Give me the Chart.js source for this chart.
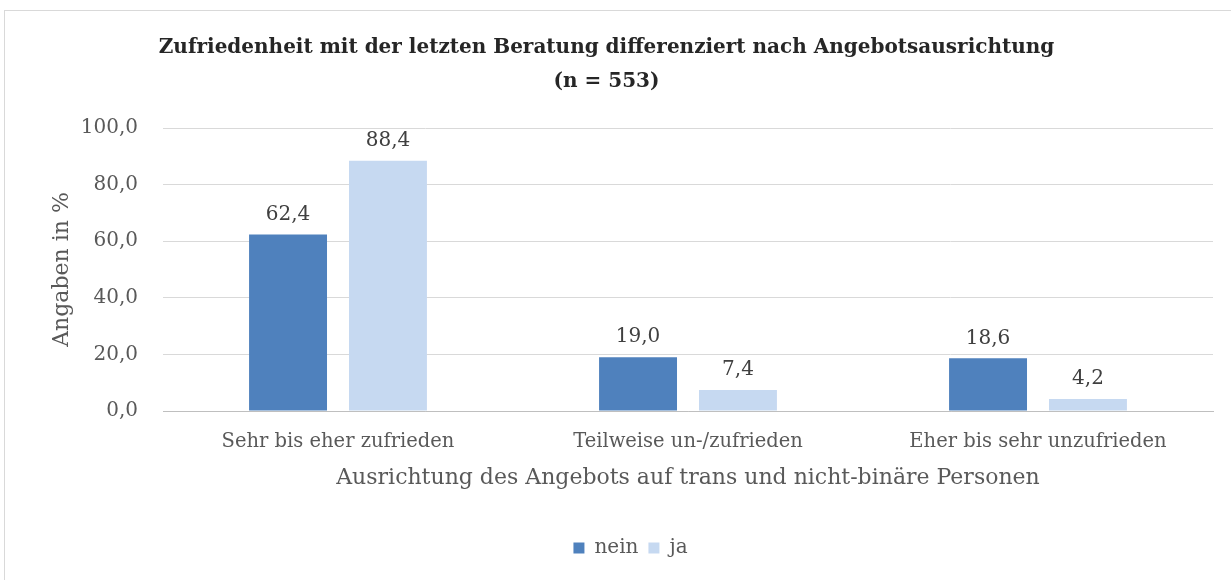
<!DOCTYPE html>
<html>
<head>
<meta charset="utf-8">
<script src="https://cdn.jsdelivr.net/npm/chart.js@4"></script>
<style>
  html, body { margin: 0; padding: 0; overflow: hidden; background: #fff; }
  #frame { position: absolute; left: 4px; top: 10px; width: 1240px; height: 600px; border: 1px solid #d9d9d9; pointer-events: none; }
  #wrap { position: absolute; left: 0; top: 0; width: 1231px; height: 580px; }
</style>
</head>
<body>
<div id="wrap"><canvas id="chart"></canvas></div>
<div id="frame"></div>
<script>
const categories = ['Sehr bis eher zufrieden', 'Teilweise un-/zufrieden', 'Eher bis sehr unzufrieden'];
const neinValues = [62.4, 19.0, 18.6];
const jaValues = [88.4, 7.4, 4.2];
const seriesNames = ['nein', 'ja'];

const FONT = "'DejaVu Serif', serif";
const fmt = (v) => Number(v).toFixed(1).replace('.', ',');

// value labels above each bar
const barLabels = {
  id: 'barLabels',
  afterDatasetsDraw(chart) {
    const ctx = chart.ctx;
    ctx.save();
    ctx.font = '20px ' + FONT;
    ctx.fillStyle = '#404040';
    ctx.textAlign = 'center';
    ctx.textBaseline = 'bottom';
    chart.data.datasets.forEach((ds, i) => {
      chart.getDatasetMeta(i).data.forEach((bar, j) => {
        ctx.fillText(fmt(ds.data[j]), bar.x, bar.y - 10);
      });
    });
    ctx.restore();
  }
};

// legend sits a bit right of the canvas centre in the original
const legendShift = {
  id: 'legendShift',
  afterLayout(chart) {
    chart.legend.left += 24;
    chart.legend.right += 24;
  }
};

new Chart(document.getElementById('chart'), {
  type: 'bar',
  data: {
    labels: categories,
    datasets: [
      { label: seriesNames[0], data: neinValues, backgroundColor: '#4f81bd' },
      { label: seriesNames[1], data: jaValues, backgroundColor: '#c6d9f1' }
    ]
  },
  options: {
    responsive: true,
    maintainAspectRatio: false,
    animation: false,
    layout: { padding: { left: 0, right: 18, top: 0, bottom: 12 } },
    datasets: { bar: { categoryPercentage: 0.571, barPercentage: 0.78 } },
    plugins: {
      title: {
        display: true,
        text: ['Zufriedenheit mit der letzten Beratung differenziert nach Angebotsausrichtung', '(n = 553)'],
        color: '#262626',
        font: { family: FONT, size: 20, weight: 'bold', lineHeight: 1.7 },
        padding: { top: 31, bottom: 29 }
      },
      legend: {
        position: 'bottom',
        labels: {
          color: '#595959',
          font: { family: FONT, size: 20 },
          boxWidth: 11,
          boxHeight: 11,
          padding: 10
        }
      },
      tooltip: { enabled: false }
    },
    scales: {
      x: {
        grid: { display: false },
        border: { color: '#bfbfbf' },
        ticks: { color: '#595959', font: { family: FONT, size: 19.5 }, padding: 11 },
        title: {
          display: true,
          text: 'Ausrichtung des Angebots auf trans und nicht-binäre Personen',
          color: '#595959',
          font: { family: FONT, size: 22 },
          padding: { top: 4, bottom: 37 }
        },
        afterFit: (scale) => { scale.height = 117; }
      },
      y: {
        min: 0,
        max: 100,
        ticks: { stepSize: 20, color: '#595959', font: { family: FONT, size: 20 }, padding: 25, callback: (v) => fmt(v) },
        grid: { color: '#d9d9d9', drawTicks: false },
        border: { display: false },
        title: {
          display: true,
          text: 'Angaben in %',
          color: '#595959',
          font: { family: FONT, size: 22 },
          padding: { top: 49, bottom: 0 }
        },
        afterFit: (scale) => { scale.width = 163; }
      }
    }
  },
  plugins: [barLabels, legendShift]
});
</script>
</body>
</html>
